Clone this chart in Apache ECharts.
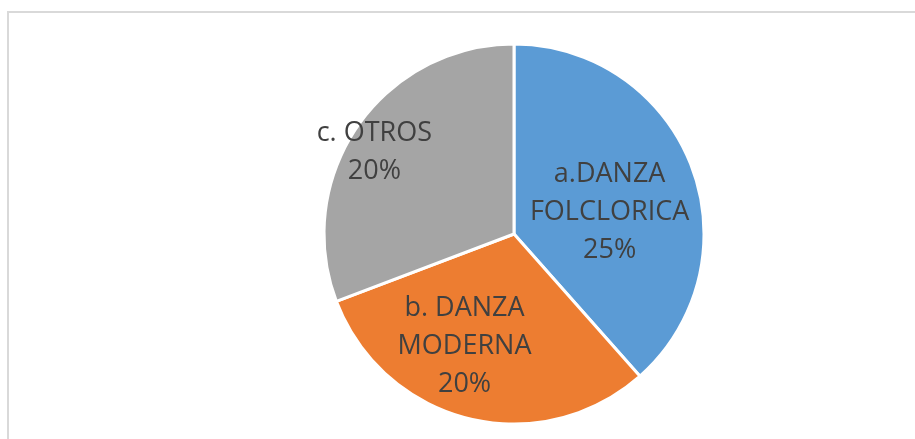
<!DOCTYPE html>
<html>
<head>
<meta charset="utf-8">
<script src="https://cdn.jsdelivr.net/npm/echarts@6/dist/echarts.min.js"></script>
<style>
  html, body { margin: 0; padding: 0; background: #fff; overflow: hidden; }
  .frame {
    position: absolute; left: 7px; top: 11px;
    width: 920px; height: 440px;
    border: 2px solid #d9d9d9;
  }
  #chart { position: absolute; left: 0; top: 0; width: 915px; height: 439px; }
</style>
</head>
<body>
<div class="frame"></div>
<div id="chart"></div>
<script>
const categories = ['a.DANZA\nFOLCLORICA', 'b. DANZA\nMODERNA', 'c. OTROS']
const values = [25, 20, 20]
const colors = ['#5B9BD5', '#ED7D31', '#A5A5A5']
// nudges to match the original label placement
const labelShift = [[4, 13], [-26, 17], [-59, -26]]

const chart = echarts.init(document.getElementById('chart'))
chart.setOption({
  animation: false,
  series: [{
    type: 'pie',
    center: [514, 234],
    radius: [0, 190],
    startAngle: 90,
    clockwise: true,
    itemStyle: { borderColor: '#fff', borderWidth: 3 },
    label: {
      show: true,
      position: 'inside',
      fontFamily: 'Open Sans',
      fontSize: 27,
      lineHeight: 38,
      color: '#404040',
      formatter: p => p.name + '\n' + p.value + '%'
    },
    labelLine: { show: false },
    labelLayout: p => ({ dx: labelShift[p.dataIndex][0], dy: labelShift[p.dataIndex][1] }),
    data: categories.map((c, i) => ({ name: c, value: values[i], itemStyle: { color: colors[i] } }))
  }]
})
</script>
</body>
</html>
